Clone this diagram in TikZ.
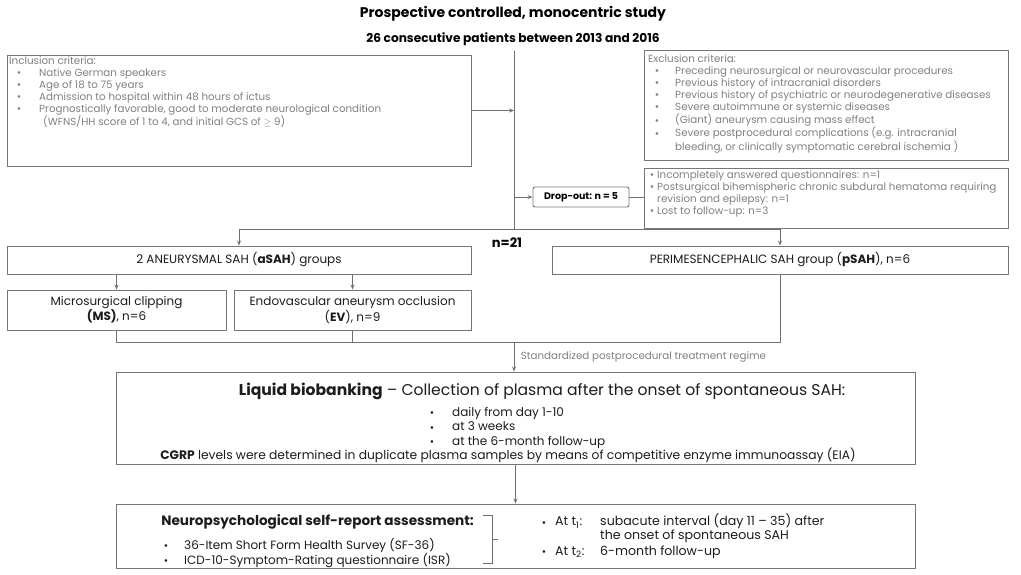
\documentclass[tikz,border=0pt]{standalone}
\usepackage{fontspec}
\setmainfont{Poppins}
\usetikzlibrary{arrows.meta,positioning,calc}
\definecolor{boxgray}{RGB}{118,118,118}
\definecolor{critgray}{RGB}{128,128,128}
\definecolor{linegray}{RGB}{112,112,112}
\definecolor{darktext}{RGB}{28,28,28}
\newcommand{\bul}[1]{\makebox[#1][l]{\raisebox{\dimexpr0.27em-1.5pt\relax}{\fontsize{6}{6}\selectfont$\bullet$}}}

\begin{document}
\begin{tikzpicture}[x=1pt, y=-1pt,
  frame/.style={draw=boxgray, line width=0.9pt, inner sep=0pt},
  crit/.style={text=critgray, font=\fontsize{10.3}{12}\selectfont, align=left, anchor=north west, inner sep=0pt},
  group/.style={frame, text=darktext, font=\fontsize{12}{14}\selectfont, align=center},
  conn/.style={draw=linegray, line width=0.9pt},
  arr/.style={conn, -{Stealth[length=5pt,width=4pt]}}]
  \useasboundingbox (0,0) rectangle (1021,575);

  % Headline
  \node[font=\fontsize{14}{16}\selectfont\bfseries] (title) at (513,14) {Prospective controlled, monocentric study};
  \node[font=\fontsize{12.2}{14}\selectfont\bfseries] (subtitle) at (513,39) {26 consecutive patients between 2013 and 2016};

  % Screening
  \node[frame, minimum width=464pt, minimum height=111pt] (incl) at (239,110.5) {};
  \node[crit] (incltext) at (9,56) {Inclusion criteria:\\
    \hspace*{8pt}\bul{22pt}Native German speakers\\
    \hspace*{8pt}\bul{22pt}Age of 18 to 75 years\\
    \hspace*{8pt}\bul{22pt}Admission to hospital within 48 hours of ictus\\
    \hspace*{8pt}\bul{22pt}Prognostically favorable, good to moderate neurological condition\\
    \hspace*{34pt}(WFNS/HH score of 1 to 4, and initial GCS of $\geq$ 9)};

  \node[frame, minimum width=364pt, minimum height=110pt] (excl) at (826,105) {};
  \node[crit] (excltext) at (648,54) {Exclusion criteria:\\
    \hspace*{7pt}\bul{20pt}Preceding neurosurgical or neurovascular procedures\\
    \hspace*{7pt}\bul{20pt}Previous history of intracranial disorders\\
    \hspace*{7pt}\bul{20pt}Previous history of psychiatric or neurodegenerative diseases\\
    \hspace*{7pt}\bul{20pt}Severe autoimmune or systemic diseases\\
    \hspace*{7pt}\bul{20pt}(Giant) aneurysm causing mass effect\\
    \hspace*{7pt}\bul{20pt}Severe postprocedural complications (e.g. intracranial\\
    \hspace*{27pt}bleeding, or clinically symptomatic cerebral ischemia )};

  \node[frame, rounded corners=2pt, minimum width=96pt, minimum height=20pt, font=\fontsize{9.5}{11}\selectfont\bfseries] (drop) at (581,197) {Drop-out: n = 5};
  \node[frame, minimum width=364pt, minimum height=60pt] (droplist) at (826,198) {};
  \node[crit] (droptext) at (650,170) {\bul{7pt}Incompletely answered questionnaires: n=1\\
    \bul{7pt}Postsurgical bihemispheric chronic subdural hematoma requiring\\
    \hspace*{7pt}revision and epilepsy: n=1\\
    \bul{7pt}Lost to follow-up: n=3};

  % Main stem
  \coordinate (stem) at (514,51);
  \coordinate (split) at (514,229);
  \draw[conn] (stem) -- (split);
  \draw[arr] (incl.east) -- (incl.east -| stem);
  \draw[arr] (drop.west -| stem) -- (drop.west);
  \draw[conn] (drop.east) -- (drop.east -| droplist.west);

  % Groups
  \node[font=\fontsize{13}{15}\selectfont\bfseries] (nall) at (507,243) {n=21};
  \node[group, minimum width=464pt, minimum height=28pt] (asah) at (239,260) {2 ANEURYSMAL SAH (\textbf{aSAH}) groups};
  \node[group, minimum width=456pt, minimum height=28pt] (psah) at (780,260) {PERIMESENCEPHALIC SAH group (\textbf{pSAH}), n=6};
  \node[group, minimum width=219pt, minimum height=40pt] (ms) at (116.5,310) {Microsurgical clipping\\\textbf{(MS)}, n=6};
  \node[group, minimum width=237pt, minimum height=40pt] (ev) at (352.5,310) {Endovascular aneurysm occlusion\\(\textbf{EV}), n=9};

  \draw[arr] (split) -| (asah.north);
  \draw[arr] (split) -| (psah.north);
  \draw[arr] (ms.north |- asah.south) -- (ms.north);
  \draw[arr] (ev.north |- asah.south) -- (ev.north);

  \coordinate (merge) at (514,342);
  \draw[conn] (ms.south) |- (merge);
  \draw[conn] (ev.south) |- (merge);
  \draw[conn] (psah.south) |- (merge);

  % Biobanking
  \node[frame, minimum width=799pt, minimum height=92pt] (liquid) at (515.5,418) {};
  \draw[arr] (merge) -- node[right, text=critgray, font=\fontsize{10.3}{12}\selectfont, xshift=3pt] (regime) {Standardized postprocedural treatment regime} (liquid.north -| merge);
  \node[font=\fontsize{15.6}{18}\selectfont, text=darktext] (liqhead) at (542,391) {\textbf{Liquid biobanking} -- Collection of plasma after the onset of spontaneous SAH:};
  \node[anchor=north west, inner sep=0pt, align=left, text=darktext, font=\fontsize{12}{14.5}\selectfont] (liqlist) at (430,407) {\bul{22pt}daily from day 1-10\\
    \bul{22pt}at 3 weeks\\
    \bul{22pt}at the 6-month follow-up};
  \node[font=\fontsize{12.3}{14}\selectfont, text=darktext] (cgrp) at (508,455) {\textbf{CGRP} levels were determined in duplicate plasma samples by means of competitive enzyme immunoassay (EIA)};

  % Assessment
  \node[frame, minimum width=799pt, minimum height=64pt] (neuro) at (515.5,536) {};
  \draw[arr] (liquid.south) -- (neuro.north);
  \node[font=\fontsize{13.6}{16}\selectfont\bfseries, text=darktext] (neurohead) at (317.5,522) {Neuropsychological self-report assessment:};
  \node[anchor=north west, inner sep=0pt, align=left, text=darktext, font=\fontsize{12}{13.5}\selectfont] (neurolist) at (164,538) {\bul{20pt}36-Item Short Form Health Survey (SF-36)\\
    \bul{20pt}ICD-10-Symptom-Rating questionnaire (ISR)};
  \draw[conn] (483,515) -- (492,515) -- (492,563) -- (483,563);
  \draw[conn] (492,539) -- (498,539);
  \node[anchor=north west, inner sep=0pt, text=darktext, font=\fontsize{12.6}{13.5}\selectfont] (timing) at (542,514) {\begin{tabular}{@{}p{13pt}@{}p{45pt}@{}l@{}}
    \bul{13pt} & At t\textsubscript{1}: & subacute interval (day 11 -- 35) after\\
    & & the onset of spontaneous SAH\\[2pt]
    \bul{13pt} & At t\textsubscript{2}: & 6-month follow-up
  \end{tabular}};
\end{tikzpicture}
\end{document}
